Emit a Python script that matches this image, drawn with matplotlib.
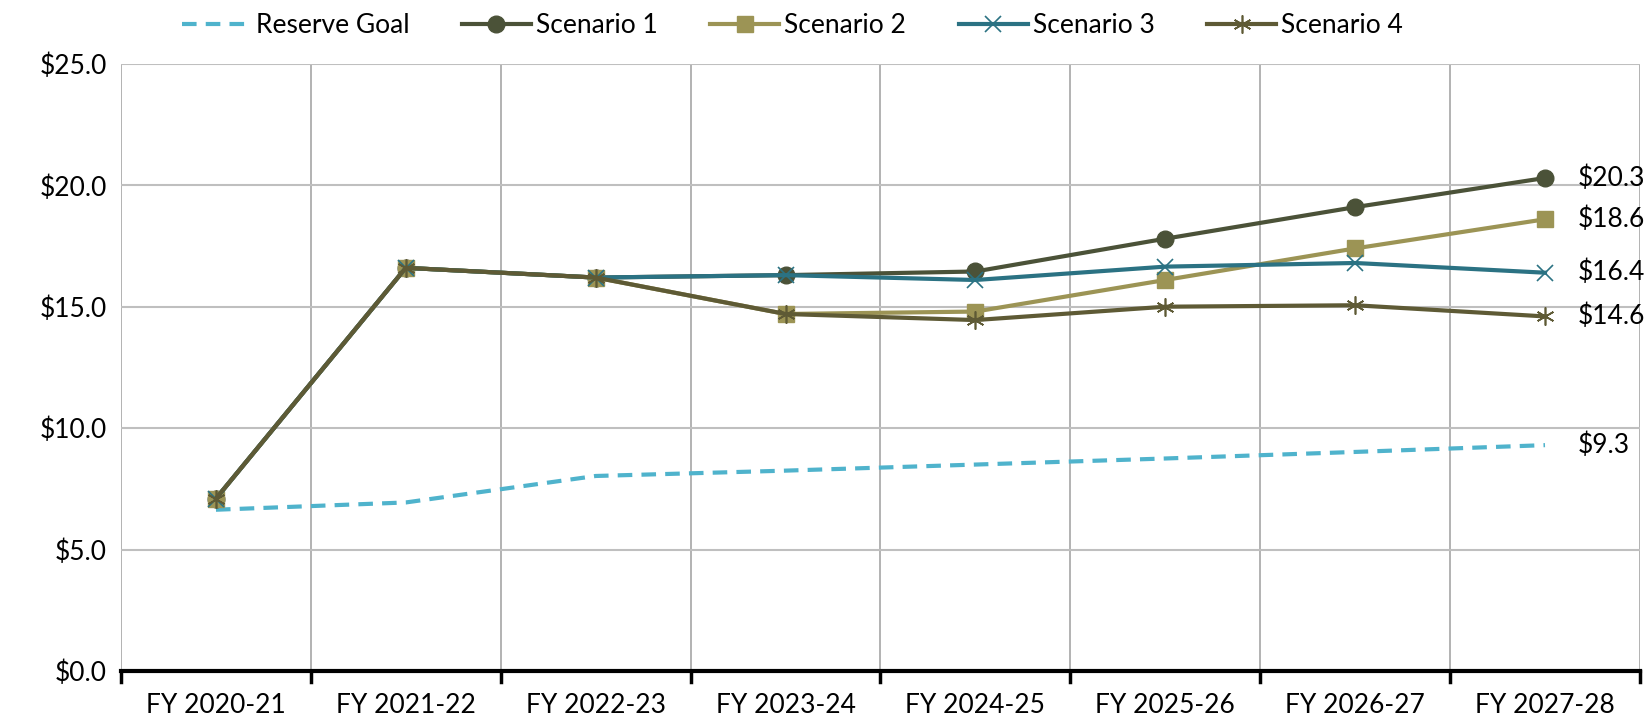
import numpy as np
import matplotlib
matplotlib.use('Agg')
import matplotlib.pyplot as plt

plt.rcParams['font.family'] = ['Lato', 'DejaVu Sans']

years = ["FY 2020-21", "FY 2021-22", "FY 2022-23", "FY 2023-24",
         "FY 2024-25", "FY 2025-26", "FY 2026-27", "FY 2027-28"]
reserve_goal = [6.64, 6.94, 8.03, 8.25, 8.50, 8.75, 9.02, 9.3]
scenario1 = [7.1, 16.6, 16.2, 16.3, 16.45, 17.8, 19.1, 20.3]
scenario2 = [7.1, 16.6, 16.2, 14.7, 14.8, 16.1, 17.4, 18.6]
scenario3 = [7.1, 16.6, 16.2, 16.3, 16.1, 16.65, 16.8, 16.4]
scenario4 = [7.1, 16.6, 16.2, 14.7, 14.45, 15.0, 15.06, 14.6]

x = np.arange(len(years))
FS = 19

fig = plt.figure(figsize=(16.51, 7.28), dpi=100)
ax = fig.add_axes([0.0733, 0.0783, 0.92, 0.834])

ax.plot(x, reserve_goal, "--", color="#4fb3cc", linewidth=3,
        dashes=(3.5, 2.2), label="Reserve Goal")
ax.plot(x, scenario1, "o-", color="#4b5238", linewidth=3,
        markersize=12, label="Scenario 1")
ax.plot(x, scenario2, "s-", color="#9c9455", linewidth=3,
        markersize=12, label="Scenario 2")
ax.plot(x, scenario3, "x-", color="#2b7283", linewidth=3,
        markersize=12, markeredgewidth=1.2, label="Scenario 3")
ax.plot(x, scenario4, "-", marker=(6, 2, 0), color="#5e5a35", linewidth=3,
        markersize=13, markeredgewidth=1.2, label="Scenario 4")

# end labels
for s in (reserve_goal, scenario1, scenario2, scenario3, scenario4):
    ax.text(x[-1] + 0.17, s[-1], "$%.1f" % s[-1], fontsize=FS,
            va="center", ha="left")

ax.set_xlim(-0.5, len(years) - 0.5)
ax.set_ylim(0, 25)
ax.set_yticks(np.arange(0, 26, 5))
ax.set_yticklabels(["$%.1f" % v for v in np.arange(0, 26, 5)], fontsize=FS)
ax.set_xticks(x)
ax.set_xticklabels(years, fontsize=FS)
ax.tick_params(axis="x", length=0, pad=16)
ax.tick_params(axis="y", length=0, pad=10)

# category boundaries as gridlines + outward ticks
bounds = np.arange(-0.5, len(years), 1.0)
for b in bounds:
    ax.axvline(b, color="#a6a6a6", linewidth=1.2, zorder=0)
    ax.plot([b, b], [0, -0.45], color="black", linewidth=2.5, clip_on=False)
ax.yaxis.grid(True, color="#bfbfbf", linewidth=1.5, zorder=0)
ax.set_axisbelow(True)

for side in ("top", "right", "left"):
    ax.spines[side].set_visible(False)
ax.spines["bottom"].set_linewidth(3)

fig.legend(loc="upper center", bbox_to_anchor=(0.48, 1.015), ncol=5,
           frameon=False, fontsize=FS, handlelength=2.6, columnspacing=2.0,
           handletextpad=0.2)

plt.savefig("out.png", dpi=100)
